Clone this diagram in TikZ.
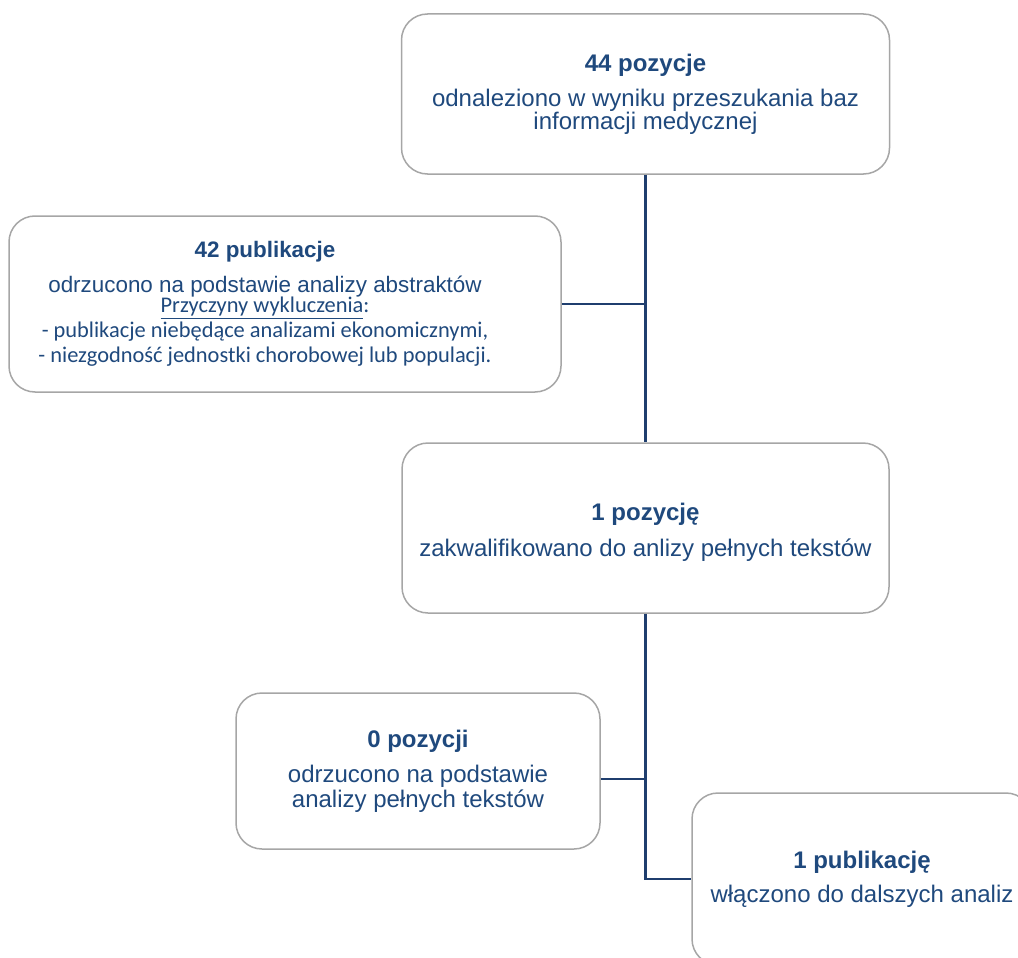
\documentclass[tikz,border=0pt]{standalone}
\usepackage{fontspec}
\setmainfont{Liberation Sans}
\newfontfamily\calibri{Carlito}
\definecolor{pubblue}{HTML}{1F497D}
\definecolor{pubnavy}{HTML}{1F3E6E}
\definecolor{pubgray}{HTML}{A6A6A6}
\tikzset{
  flowbox/.style={draw=pubgray, line width=1.5pt, rounded corners=26pt, fill=white, align=center, text=pubblue, inner sep=0pt},
  flowtext/.style={align=center, text=pubblue, inner sep=0pt},
  flowlink/.style={draw=pubnavy, line width=2.6pt}
}

\begin{document}
\begin{tikzpicture}[x=1pt,y=-1pt] %one unit is one pixel of the reference, y runs down
\useasboundingbox (0,0) rectangle (1018,958); %Page size
\clip (0,0) rectangle (1018,958); %The last box runs off the page
\node[flowbox, minimum width=488pt, minimum height=160pt, font=\fontsize{24}{23}\selectfont] (found) at (645.5,94) {\textbf{44 pozycje}\\[12pt]odnaleziono w wyniku przeszukania baz\\informacji medycznej}; %Search result
\node[flowbox, minimum width=552pt, minimum height=176pt] (abstr) at (285,304) {}; %Rejected after abstracts
\node[flowtext, font=\fontsize{22.4}{25}\selectfont] (abstrtext) at ([xshift=-20pt]abstr.center) {\textbf{42 publikacje}\\[10pt]odrzucono na podstawie analizy abstraktów\\[-5pt]{\calibri\underline{Przyczyny wykluczenia}:}\\{\calibri - publikacje niebędące analizami ekonomicznymi,}\\{\calibri - niezgodność jednostki chorobowej lub populacji.}}; %its text sits left of centre
\node[flowbox, minimum width=487pt, minimum height=170pt] (fulltext) at (645.5,528) {}; %Full text stage
\node[flowtext, font=\fontsize{24}{24}\selectfont] (fulltexttext) at ([yshift=-4pt]fulltext.center) {\textbf{1 pozycję}\\[12pt]zakwalifikowano do anlizy pełnych tekstów}; %a bit low
\node[flowbox, minimum width=364pt, minimum height=156pt, font=\fontsize{24}{25}\selectfont] (reject) at (418,771) {\textbf{0 pozycji}\\[10pt]odrzucono na podstawie\\analizy pełnych tekstów}; %Rejected after full text
\node[flowbox, minimum width=340pt, minimum height=172pt, font=\fontsize{24}{24}\selectfont] (incl) at (862,879) {\textbf{1 publikację}\\[10pt]włączono do dalszych analiz}; %Included
\coordinate (split) at (645.5,779); %Branch to the rejected box
\draw[flowlink] (found.south) -- (fulltext.north); %Main line
\draw[flowlink] (abstr.east) -- (abstr.east -| found.south); %Branch left
\draw[flowlink] (fulltext.south) |- (incl.west); %Down and right
\draw[flowlink] (split) -- (split -| reject.east); %Branch left
\end{tikzpicture}
\end{document}
